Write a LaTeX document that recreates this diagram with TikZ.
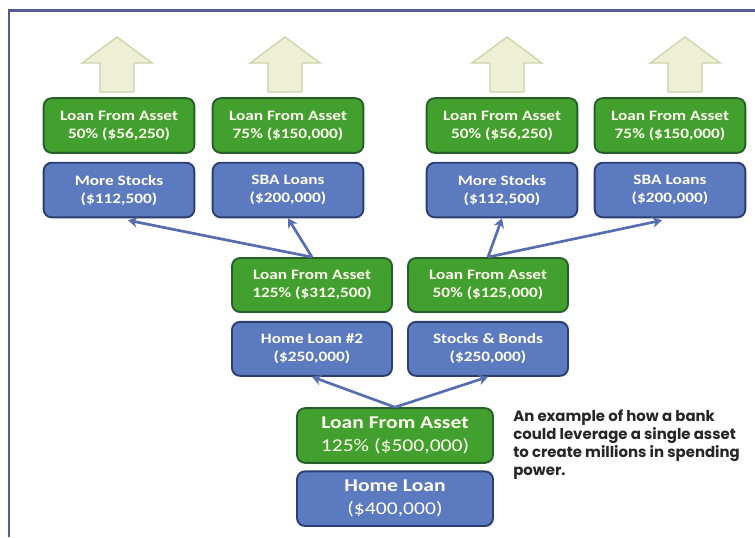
\documentclass[tikz,border=0pt]{standalone}
\usepackage{fontspec}
\setmainfont{Carlito}
\newfontfamily\boxfont[FakeStretch=1.2]{Carlito}
\newfontfamily\notefont{Poppins}
\usepackage{tikz}
\usetikzlibrary{arrows.meta,calc,positioning}
\definecolor{lfaGreen}{RGB}{66,160,46}
\definecolor{lfaGreenDark}{RGB}{38,96,40}
\definecolor{assetBlue}{RGB}{92,122,192}
\definecolor{assetBlueDark}{RGB}{44,62,112}
\definecolor{linkBlue}{RGB}{86,110,176}
\definecolor{frameBlue}{RGB}{84,92,150}
\definecolor{upFill}{RGB}{238,240,214}
\definecolor{upDraw}{RGB}{204,212,168}

\begin{document}
\begin{tikzpicture}[
      x=0.75pt, y=-0.75pt,
      >={Stealth[length=7pt,width=8pt]},
      box/.style={rounded corners=6pt, line width=1.4pt, text=white!94!yellow, align=center,
                  inner sep=0pt, minimum width=113pt, minimum height=41pt,
                  font=\boxfont\bfseries\fontsize{10.8}{13.5}\selectfont},
      lfa/.style={box, fill=lfaGreen, draw=lfaGreenDark},
      asset/.style={box, fill=assetBlue, draw=assetBlueDark},
      midBox/.style={minimum width=120pt, minimum height=40.5pt},
      baseBox/.style={minimum width=147pt, minimum height=41pt,
                  font=\boxfont\fontsize{13.5}{17}\selectfont},
      link/.style={->, linkBlue, line width=2pt},
      upArrow/.style={fill=upFill, draw=upDraw, line width=1pt, line join=miter}
    ]

    \useasboundingbox (0,0) rectangle (755,537);
    \fill[white] (0,0) rectangle (755,537);

    % -------- FRAME --------
    \draw[frameBlue, line width=1.6pt] (755,10.5) -- (9,10.5) -- (9,537);

    % -------- UP ARROWS --------
    \foreach \ax in {117,285,507,685}
      \draw[upArrow] (\ax,37) -- ++(35,26) -- ++(-18,0) -- ++(0,29)
        -- ++(-34,0) -- ++(0,-29) -- ++(-18,0) -- cycle;

    % -------- TOP ROW --------
    \node[lfa] (lfaA) at (119,125.5) {Loan From Asset\\50\% (\$56,250)};
    \node[asset, below=6pt of lfaA] (stocksA) {More Stocks\\(\$112,500)};

    \node[lfa] (lfaB) at (288,125.5) {Loan From Asset\\75\% (\$150,000)};
    \node[asset, below=6pt of lfaB] (sbaA) {SBA Loans\\(\$200,000)};

    \node[lfa] (lfaC) at (502,125.5) {Loan From Asset\\50\% (\$56,250)};
    \node[asset, below=6pt of lfaC] (stocksB) {More Stocks\\(\$112,500)};

    \node[lfa] (lfaD) at (670,125.5) {Loan From Asset\\75\% (\$150,000)};
    \node[asset, below=6pt of lfaD] (sbaB) {SBA Loans\\(\$200,000)};

    % -------- MIDDLE ROW --------
    \node[lfa, midBox] (lfaHome2) at (312,285) {Loan From Asset\\125\% (\$312,500)};
    \node[asset, midBox, below=6pt of lfaHome2] (home2) {Home Loan \#2\\(\$250,000)};

    \node[lfa, midBox] (lfaBonds) at (488,285) {Loan From Asset\\50\% (\$125,000)};
    \node[asset, midBox, below=6pt of lfaBonds] (bonds) {Stocks \& Bonds\\(\$250,000)};

    % -------- BASE --------
    \node[lfa, baseBox] (lfaHome) at (395,435.5) {\textbf{Loan From Asset}\\125\% (\$500,000)};
    \node[asset, baseBox, below=5pt of lfaHome] (home) {\textbf{Home Loan}\\(\$400,000)};

    % -------- LINKS --------
    \draw[link] (lfaHome.north) -- (home2.south);
    \draw[link] (lfaHome.north) -- (bonds.south);
    \draw[link] (lfaHome2.north) -- ($(stocksA.south)+(9,2)$);
    \draw[link] (lfaHome2.north) -- (sbaA.south);
    \draw[link] (lfaBonds.north) -- (stocksB.south);
    \draw[link] (lfaBonds.north) -- ($(sbaB.south)+(-8,2)$);

    % -------- NOTE --------
    \node[anchor=north west, inner sep=0pt, align=left, text=black!85,
          font=\notefont\bfseries\fontsize{11.2}{13.3}\selectfont] (note) at (513,410)
      {An example of how a bank\\could leverage a single asset\\to create millions in spending\\power.};

\end{tikzpicture}
\end{document}
